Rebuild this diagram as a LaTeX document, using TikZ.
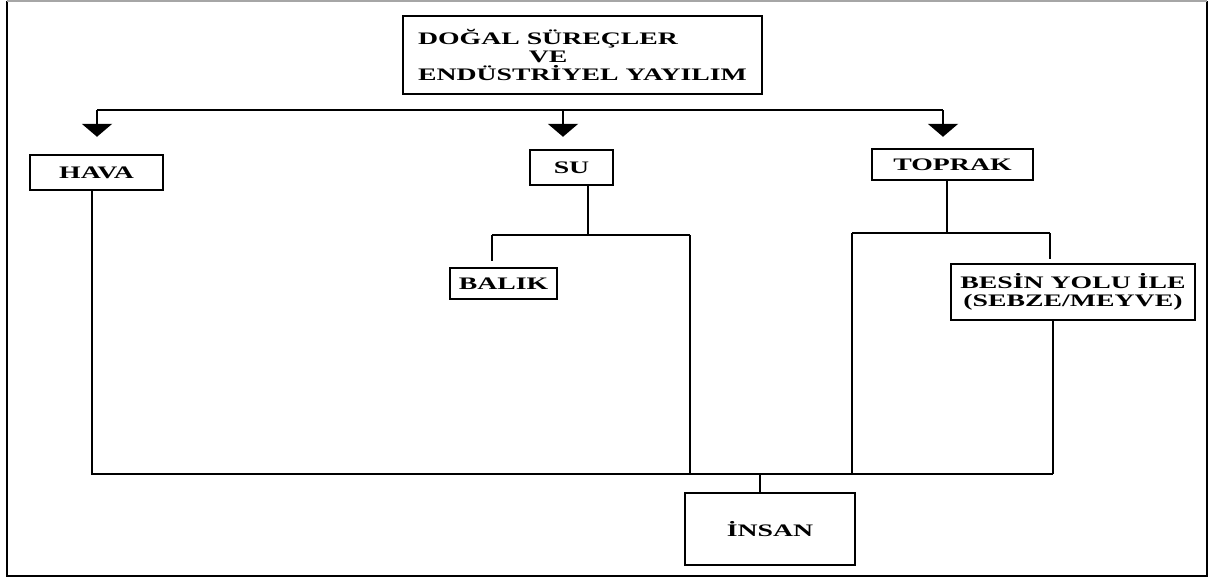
\documentclass[tikz,border=0pt]{standalone}
\usepackage{fontspec}
\usepackage{calc}
\usetikzlibrary{arrows.meta}
\newfontfamily\diafont[FakeStretch=1.58]{Liberation Serif}

\begin{document}
\begin{tikzpicture}[
    x=0.02cm, y=-0.02cm,
    box/.style={rectangle, draw, line width=1.4pt, inner sep=0pt, align=center, font=\diafont\bfseries\fontsize{10}{10}\selectfont},
    link/.style={line width=1.4pt},
    arrow/.style={-{Triangle[width=0.6cm, length=0.26cm]}, line width=1.4pt}
]
    \useasboundingbox (0,0) rectangle (1217,578);
    \draw[line width=1.4pt] (7,1) -- (7,576) -- (1207,576) -- (1207,1);
    \draw[gray!70, line width=0.6pt] (7,1) -- (1207,1);

    \node[box, minimum width=7.18cm, minimum height=1.56cm, align=left] (source) at (582.5,55)
        {DOĞAL SÜREÇLER\\\makebox[\widthof{DOĞAL SÜREÇLER}]{VE}\\ENDÜSTRİYEL YAYILIM};
    \node[box, minimum width=2.66cm, minimum height=0.70cm] (hava) at (96.5,172.5) {HAVA};
    \node[box, minimum width=1.66cm, minimum height=0.70cm] (su) at (571.5,167.5) {SU};
    \node[box, minimum width=3.22cm, minimum height=0.62cm] (toprak) at (952.5,164.5) {TOPRAK};
    \node[box, minimum width=2.14cm, minimum height=0.62cm] (balik) at (503.5,283.5) {BALIK};
    \node[box, minimum width=4.88cm, minimum height=1.12cm] (besin) at (1073,292) {BESİN YOLU İLE\\(SEBZE/MEYVE)};
    \node[box, minimum width=3.40cm, minimum height=1.44cm] (insan) at (770,529) {İNSAN};

    \coordinate (busl) at (97,110);
    \coordinate (buss) at (563,110);
    \coordinate (busr) at (943,110);
    \draw[link] (busl) -- (busr);
    \draw[arrow, shorten >=0.34cm] (busl) -- (busl |- hava.north);
    \draw[arrow, shorten >=0.24cm] (buss) -- (buss |- su.north);
    \draw[arrow, shorten >=0.22cm] (busr) -- (busr |- toprak.north);

    \coordinate (havab) at (92,474);
    \coordinate (besinb) at (1053,474);
    \coordinate (insanj) at (760,474);
    \draw[link] (havab |- hava.south) -- (havab) -- (besinb);
    \draw[link] (besinb |- besin.south) -- (besinb);
    \draw[link] (insanj) -- (insanj |- insan.north);

    \coordinate (suj) at (588,235);
    \coordinate (sul) at (492,235);
    \coordinate (sur) at (690,235);
    \draw[link] (suj |- su.south) -- (suj);
    \draw[link] (sul) -- (sur);
    \draw[link, shorten >=0.12cm] (sul) -- (sul |- balik.north);
    \draw[link] (sur) -- (sur |- havab);

    \coordinate (topj) at (947,233);
    \coordinate (topl) at (852,233);
    \coordinate (topr) at (1050,233);
    \draw[link] (topj |- toprak.south) -- (topj);
    \draw[link] (topl) -- (topr);
    \draw[link] (topl) -- (topl |- havab);
    \draw[link, shorten >=0.08cm] (topr) -- (topr |- besin.north);
\end{tikzpicture}
\end{document}
